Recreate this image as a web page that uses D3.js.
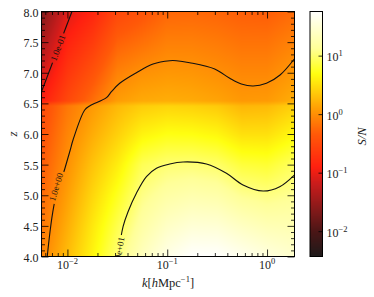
<!DOCTYPE html>
<html><head><meta charset="utf-8">
<script src="https://cdn.jsdelivr.net/npm/d3@7"></script>
<style>
html,body{margin:0;padding:0;background:#fff;}
svg{display:block;}
text{font-family:"Liberation Serif","DejaVu Serif",serif;fill:#222;}
</style></head><body>
<svg id="chart" width="374" height="297"></svg>
<script>
// ---------------- data ----------------
const kNodes = [0.0055, 0.01, 0.0178, 0.0316, 0.0562, 0.1, 0.178, 0.316, 0.562, 1.0, 1.884];
const zLow  = [4.0, 4.5, 5.0, 5.5, 6.0, 6.5];
const zHigh = [6.5, 7.0, 7.5, 8.0];
// log10(S/N): rows follow z, columns follow k
const logSNLow = [
  [-0.08, 0.28, 0.63, 1.00, 1.35, 1.60, 1.75, 1.75, 1.65, 1.55, 1.45],
  [-0.17, 0.19, 0.55, 0.88, 1.20, 1.40, 1.50, 1.49, 1.38, 1.30, 1.28],
  [-0.25, 0.10, 0.44, 0.74, 1.06, 1.20, 1.26, 1.23, 1.10, 1.05, 1.11],
  [-0.34, 0.01, 0.32, 0.58, 0.91, 1.00, 1.01, 0.97, 0.83, 0.80, 0.94],
  [-0.42,-0.07, 0.18, 0.40, 0.62, 0.70, 0.69, 0.64, 0.50, 0.50, 0.65],
  [-0.50,-0.16, 0.05, 0.24, 0.36, 0.40, 0.38, 0.34, 0.22, 0.24, 0.38]
];
const logSNHigh = [
  [-0.90,-0.50,-0.20, 0.10, 0.18, 0.20, 0.18, 0.14, 0.07, 0.08, 0.20],
  [-1.15,-0.69,-0.42,-0.09, 0.01, 0.05, 0.04, 0.00,-0.05,-0.05, 0.06],
  [-1.40,-0.88,-0.64,-0.30,-0.20,-0.10,-0.10,-0.13,-0.18,-0.18,-0.08],
  [-1.65,-1.08,-0.86,-0.52,-0.40,-0.26,-0.25,-0.27,-0.31,-0.32,-0.23]
];
const zBreak = 6.5;

// contour lines [k, z]
const contour01 = [[0.0055, 6.69], [0.0111, 8.0]];
const contour1 = [[0.00628,4.0],[0.00746,4.895],[0.0094,5.429],[0.01067,5.739],[0.01138,5.902],[0.0149,6.392],[0.0167,6.457],[0.0246,6.593],[0.0276,6.691],[0.0334,6.828],[0.0491,7.001],[0.0721,7.143],[0.106,7.197],[0.1236,7.197],[0.168,7.164],[0.299,7.061],[0.423,6.909],[0.553,6.816],[0.724,6.784],[0.986,6.828],[1.35,6.963],[1.875,7.224]];
const contour10 = [[0.0321,4.0],[0.0361,4.487],[0.0405,4.731],[0.0491,5.032],[0.0619,5.303],[0.078,5.44],[0.106,5.51],[0.144,5.543],[0.247,5.51],[0.392,5.358],[0.575,5.167],[0.912,5.069],[1.34,5.14],[1.875,5.33]];
const contourLabelText = ["1.0e-01", "1.0e+00", "1.0e+01"];
const contourLabelAt = [[0.00805, 7.404], [0.00772, 5.135], [0.033, 4.082]];

const kLimits = [0.0055, 1.884];
const zLimits = [4, 8];
const xMajorTicks = [0.01, 0.1, 1];
const yMajorTicks = [4.0, 4.5, 5.0, 5.5, 6.0, 6.5, 7.0, 7.5, 8.0];
const cbLimits = [0.00369, 56.8];
const cbTicks = [0.01, 0.1, 1, 10];
const cbTickExp = ["\u22122", "\u22121", "0", "1"];
const xTickExp = ["\u22122", "\u22121", "0"];

// colormap (hot-like)
const cmapStops  = [0, 0.10, 0.20, 0.30, 0.365, 0.50, 0.60, 0.746, 0.85, 1.0];
const cmapColors = ["#1e1a1a","#4a1616","#8a1a1a","#cc1c1c","#ff2010","#ff5a08","#ff9c04","#ffff10","#ffff99","#ffffff"];

// ---------------- layout ----------------
const M = {l:41.5, r:294.5, t:11.5, b:256.5};
const CB = {l:310, r:322.5};
const svg = d3.select("#chart");
const x = d3.scaleLog().domain(kLimits).range([M.l, M.r]);
const y = d3.scaleLinear().domain(zLimits).range([M.b, M.t]);
const cb = d3.scaleLog().domain(cbLimits).range([M.b, M.t]);
const logMin = Math.log10(cbLimits[0]), logMax = Math.log10(cbLimits[1]);
const cmap = d3.scaleLinear().domain(cmapStops).range(cmapColors).interpolate(d3.interpolateRgb).clamp(true);
const colorOf = v => cmap((v - logMin) / (logMax - logMin));

const lkNodes = kNodes.map(Math.log10);
function interpGrid(lk, z, zs, grid) {
  let i = d3.bisectRight(lkNodes, lk) - 1; i = Math.max(0, Math.min(lkNodes.length - 2, i));
  let tx = (lk - lkNodes[i]) / (lkNodes[i+1] - lkNodes[i]); tx = Math.max(0, Math.min(1, tx));
  let j = d3.bisectRight(zs, z) - 1; j = Math.max(0, Math.min(zs.length - 2, j));
  let ty = (z - zs[j]) / (zs[j+1] - zs[j]); ty = Math.max(0, Math.min(1, ty));
  const a = grid[j][i], b = grid[j][i+1], c = grid[j+1][i], d = grid[j+1][i+1];
  return (a*(1-tx) + b*tx)*(1-ty) + (c*(1-tx) + d*tx)*ty;
}
function field(lk, z) {
  const h = 0.04;
  if (z <= zBreak - h) return interpGrid(lk, z, zLow, logSNLow);
  if (z >= zBreak + h) return interpGrid(lk, z, zHigh, logSNHigh);
  const lo = interpGrid(lk, Math.min(z, zBreak), zLow, logSNLow);
  const hi = interpGrid(lk, Math.max(z, zBreak), zHigh, logSNHigh);
  const t = (z - (zBreak - h)) / (2*h);
  return lo*(1-t) + hi*t;
}

// heatmap image
const pw = Math.round(M.r - M.l), ph = Math.round(M.b - M.t);
const cv = document.createElement("canvas"); cv.width = pw; cv.height = ph;
const ctx = cv.getContext("2d"); const img = ctx.createImageData(pw, ph);
for (let py = 0; py < ph; py++) {
  const z = y.invert(M.t + py + 0.5);
  for (let px = 0; px < pw; px++) {
    const lk = Math.log10(x.invert(M.l + px + 0.5));
    const c = d3.rgb(colorOf(field(lk, z)));
    const o = (py*pw + px)*4;
    img.data[o] = c.r; img.data[o+1] = c.g; img.data[o+2] = c.b; img.data[o+3] = 255;
  }
}
ctx.putImageData(img, 0, 0);
svg.append("image").attr("x", M.l).attr("y", M.t).attr("width", pw).attr("height", ph)
  .attr("preserveAspectRatio", "none").attr("href", cv.toDataURL());

// colorbar image
const cv2 = document.createElement("canvas"); cv2.width = 1; cv2.height = ph;
const ctx2 = cv2.getContext("2d"); const img2 = ctx2.createImageData(1, ph);
for (let py = 0; py < ph; py++) {
  const c = d3.rgb(colorOf(Math.log10(cb.invert(M.t + py + 0.5))));
  img2.data[py*4] = c.r; img2.data[py*4+1] = c.g; img2.data[py*4+2] = c.b; img2.data[py*4+3] = 255;
}
ctx2.putImageData(img2, 0, 0);
svg.append("image").attr("x", CB.l).attr("y", M.t).attr("width", CB.r - CB.l).attr("height", ph)
  .attr("preserveAspectRatio", "none").attr("href", cv2.toDataURL());

// clip + mask for contours
const defs = svg.append("defs");
defs.append("clipPath").attr("id", "plotClip").append("rect")
  .attr("x", M.l).attr("y", M.t).attr("width", M.r - M.l).attr("height", M.b - M.t);
const mask = defs.append("mask").attr("id", "lblMask").attr("maskUnits", "userSpaceOnUse")
  .attr("x", 0).attr("y", 0).attr("width", 374).attr("height", 297);
mask.append("rect").attr("x", 0).attr("y", 0).attr("width", 374).attr("height", 297).attr("fill", "#fff");

const line = d3.line().x(d => x(d[0])).y(d => y(d[1])).curve(d3.curveCatmullRom.alpha(0.5));
const contours = [contour01, contour1, contour10];
const cg = svg.append("g").attr("clip-path", "url(#plotClip)");
const lineG = cg.append("g").attr("mask", "url(#lblMask)");
contours.forEach(c => {
  lineG.append("path").attr("d", line(c)).attr("fill", "none").attr("stroke", "#111").attr("stroke-width", 1.1);
});

contours.forEach((c, ci) => {
  const p = [x(contourLabelAt[ci][0]), y(contourLabelAt[ci][1])];
  let best = 1e9, ang = 0;
  for (let s = 0; s < c.length - 1; s++) {
    const a = [x(c[s][0]), y(c[s][1])], b = [x(c[s+1][0]), y(c[s+1][1])];
    const mx = (a[0]+b[0])/2, my = (a[1]+b[1])/2;
    const dd = Math.hypot(p[0]-mx, p[1]-my);
    if (dd < best) { best = dd; ang = Math.atan2(b[1]-a[1], b[0]-a[0]) * 180 / Math.PI; }
  }
  if (ang > 90) ang -= 180; if (ang <= -90) ang += 180;
  const t = cg.append("text").attr("transform", `translate(${p[0]},${p[1]}) rotate(${ang})`)
    .attr("text-anchor", "middle").attr("dy", "0.33em").style("font-size", "9px").style("fill", "#111")
    .text(contourLabelText[ci]);
  const w = t.node().getComputedTextLength() + 4;
  mask.append("rect").attr("x", -w/2).attr("y", -5).attr("width", w).attr("height", 10).attr("fill", "#000")
    .attr("transform", `translate(${p[0]},${p[1]}) rotate(${ang})`);
});

// ---------------- axes ----------------
function clean(sel) {
  sel.select(".domain").remove();
  sel.selectAll("line").attr("stroke", "#000").attr("stroke-width", 0.8);
  sel.selectAll("text").remove();
}
const xMinorTicks = [];
[0.001, 0.01, 0.1, 1].forEach(d => { for (let m = 2; m <= 9; m++) { const v = d*m; if (v >= kLimits[0] && v <= kLimits[1]) xMinorTicks.push(v); } });
const yMinorTicks = d3.range(40, 81).map(v => v/10).filter(v => Math.abs(v*2 - Math.round(v*2)) > 1e-6);

const axes = svg.append("g");
axes.append("g").attr("transform", `translate(0,${M.b})`).call(d3.axisBottom(x).tickValues(xMajorTicks).tickSize(-7).tickFormat("")).call(clean);
axes.append("g").attr("transform", `translate(0,${M.b})`).call(d3.axisBottom(x).tickValues(xMinorTicks).tickSize(-3.5).tickFormat("")).call(clean);
axes.append("g").attr("transform", `translate(0,${M.t})`).call(d3.axisTop(x).tickValues(xMajorTicks).tickSize(-7).tickFormat("")).call(clean);
axes.append("g").attr("transform", `translate(0,${M.t})`).call(d3.axisTop(x).tickValues(xMinorTicks).tickSize(-3.5).tickFormat("")).call(clean);
axes.append("g").attr("transform", `translate(${M.l},0)`).call(d3.axisLeft(y).tickValues(yMajorTicks).tickSize(-7).tickFormat("")).call(clean);
axes.append("g").attr("transform", `translate(${M.l},0)`).call(d3.axisLeft(y).tickValues(yMinorTicks).tickSize(-3.5).tickFormat("")).call(clean);
axes.append("g").attr("transform", `translate(${M.r},0)`).call(d3.axisRight(y).tickValues(yMajorTicks).tickSize(-7).tickFormat("")).call(clean);
axes.append("g").attr("transform", `translate(${M.r},0)`).call(d3.axisRight(y).tickValues(yMinorTicks).tickSize(-3.5).tickFormat("")).call(clean);
axes.append("rect").attr("x", M.l).attr("y", M.t).attr("width", M.r - M.l).attr("height", M.b - M.t)
  .attr("fill", "none").attr("stroke", "#000").attr("stroke-width", 1);

// colorbar ticks + frame
axes.append("g").attr("transform", `translate(${CB.r},0)`).call(d3.axisRight(cb).tickValues(cbTicks).tickSize(-4).tickFormat("")).call(clean);
axes.append("rect").attr("x", CB.l).attr("y", M.t).attr("width", CB.r - CB.l).attr("height", M.b - M.t)
  .attr("fill", "none").attr("stroke", "#000").attr("stroke-width", 1);

// y tick labels
axes.selectAll(".ylab").data(yMajorTicks).enter().append("text")
  .attr("x", M.l - 3).attr("y", d => y(d) + 5).attr("text-anchor", "end")
  .style("font-size", "12px").text(d => d3.format(".1f")(d));

// x tick labels
xMajorTicks.forEach((v, i) => {
  const t = axes.append("text").attr("x", x(v)).attr("y", M.b + 12).attr("text-anchor", "middle");
  t.append("tspan").style("font-size", "12px").text("10");
  t.append("tspan").style("font-size", "8.5px").attr("dy", -5).text(xTickExp[i]);
});
// colorbar tick labels
cbTicks.forEach((v, i) => {
  const t = axes.append("text").attr("x", CB.r + 4).attr("y", cb(v) + 5.5).attr("text-anchor", "start");
  t.append("tspan").style("font-size", "12px").text("10");
  t.append("tspan").style("font-size", "8.5px").attr("dy", -5).text(cbTickExp[i]);
});

// axis titles
const xl = axes.append("text").attr("x", (M.l + M.r)/2).attr("y", 286.5).attr("text-anchor", "middle").style("font-size", "12.5px");
xl.append("tspan").style("font-style", "italic").text("k");
xl.append("tspan").text("[");
xl.append("tspan").style("font-style", "italic").text("h");
xl.append("tspan").text("Mpc");
xl.append("tspan").style("font-size", "8.5px").attr("dy", -5).text("\u22121");
xl.append("tspan").attr("dy", 5).text("]");

axes.append("text").attr("transform", `translate(16.5,${(M.t + M.b)/2}) rotate(-90)`)
  .attr("text-anchor", "middle").style("font-size", "13px").style("font-style", "italic").text("z");
axes.append("text").attr("transform", `translate(365.5,${(M.t + M.b)/2 + 2.5}) rotate(-90)`)
  .attr("text-anchor", "middle").style("font-size", "12.5px").style("font-style", "italic").text("S/N");
</script>
</body></html>
